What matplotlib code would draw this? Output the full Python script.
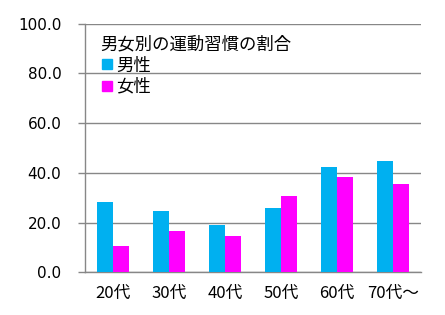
import numpy as np
import matplotlib
matplotlib.use("Agg")
import matplotlib.pyplot as plt
from matplotlib.lines import Line2D

plt.rcParams['font.family'] = ['Noto Sans CJK JP', 'DejaVu Sans']

categories = ['20代', '30代', '40代', '50代', '60代', '70代～']
male = [28.3, 24.7, 19.1, 25.9, 42.5, 44.9]
female = [10.6, 16.8, 14.6, 30.8, 38.4, 35.7]
series_names = ['男性', '女性']
title = '男女別の運動習慣の割合'
yticks = [0, 20, 40, 60, 80, 100]

c_male = '#00B0F0'
c_female = '#FF00FF'
grid_c = '#878787'

fig = plt.figure(figsize=(4.45, 3.15), dpi=100)
ax = fig.add_axes([0.191, 0.1355, 0.755, 0.789])

x = np.arange(len(categories))
w = 0.286
ax.bar(x - w / 2, male, w, color=c_male, zorder=3)
ax.bar(x + w / 2, female, w, color=c_female, zorder=3)

ax.set_xlim(-0.5, len(categories) - 0.5)
ax.set_ylim(0, 100)
ax.set_yticks(yticks)
ax.set_yticklabels([f'{v:.1f}' for v in yticks], family='DejaVu Sans', fontsize=11)
ax.set_xticks(x)
ax.set_xticklabels(categories, fontsize=12)
ax.yaxis.grid(True, color=grid_c, linewidth=1, zorder=0)
ax.tick_params(axis='y', length=5, width=1, color=grid_c, pad=12)
ax.tick_params(axis='x', length=0, pad=9)
for s in ['top', 'right']:
    ax.spines[s].set_visible(False)
for s in ['left', 'bottom']:
    ax.spines[s].set_color(grid_c)
    ax.spines[s].set_linewidth(1)

handles = [Line2D([], [], marker='s', linestyle='none', markersize=7.5, color=c)
           for c in (c_male, c_female)]
leg = ax.legend(handles, series_names, title=title, loc='upper left',
                bbox_to_anchor=(0.045, 0.955), frameon=False, alignment='left',
                fontsize=12.5, title_fontsize=12.5, handletextpad=0.15,
                borderaxespad=0, handlelength=0.8, labelspacing=0.2,
                borderpad=0.0)

fig.savefig('out.png', dpi=100)
